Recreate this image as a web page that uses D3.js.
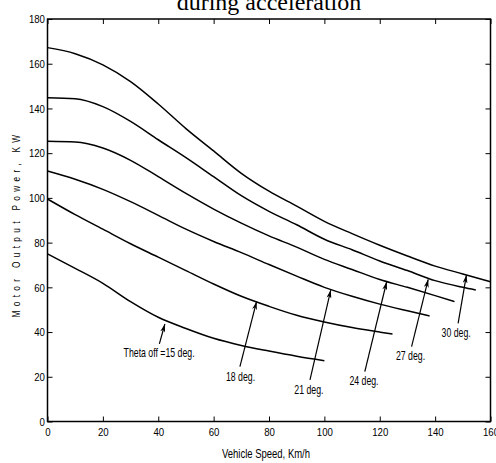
<!DOCTYPE html>
<html>
<head>
<meta charset="utf-8">
<script src="https://cdn.jsdelivr.net/npm/d3@7"></script>
<style>
  body { margin: 0; background: #fff; }
  text { fill: #000; }
</style>
</head>
<body>
<script>
// theta-off angles and the curve (speed km/h, power kW)
var angles = [15, 18, 21, 24, 27, 30]
var speeds15 = [0, 10, 20, 30, 40, 50, 60, 70, 80, 90, 100]
var power15 = [75, 68.5, 61.8, 53.6, 46.6, 41.6, 37.2, 34, 31.5, 29.2, 27.2]
var speeds18 = [0, 10, 20, 30, 40, 50, 60, 70, 80, 90, 100, 110, 120, 124.6]
var power18 = [99.5, 92.5, 86, 79.5, 73.5, 67.5, 61.5, 56, 51.5, 47.5, 44.5, 42, 40, 39.1]
var speeds21 = [0, 10, 20, 30, 40, 50, 60, 70, 80, 90, 100, 110, 120, 130, 138]
var power21 = [112, 108.3, 103.8, 98.3, 92.2, 86, 80.5, 75.5, 70.2, 65, 60, 56, 52.5, 49.5, 47.2]
var speeds24 = [0, 10, 20, 30, 40, 50, 60, 70, 80, 90, 100, 110, 120, 130, 140, 147]
var power24 = [125.3, 125, 122.3, 116.8, 109.5, 102, 95, 88.7, 83, 78, 72.5, 68, 63.5, 60, 56.3, 53.6]
var speeds27 = [0, 10, 20, 30, 40, 50, 60, 70, 80, 90, 100, 110, 120, 130, 140, 150, 154.7]
var power27 = [144.8, 144.3, 140.8, 134.2, 126, 118, 109.5, 101, 94, 88, 81.5, 76.8, 71.8, 67.5, 63, 60, 58.8]
var speeds30 = [0, 10, 20, 30, 40, 50, 60, 70, 80, 90, 100, 110, 120, 130, 140, 150, 160]
var power30 = [167.2, 164.5, 159.5, 152, 142, 131, 121, 111, 103, 96.3, 89.5, 84, 78.8, 74, 69.5, 66, 62.5]

// annotation labels: arrow tip / tail and text anchor in data units
var labelText = ["Theta off =15 deg.", "18 deg.", "21 deg.", "24 deg.", "27 deg.", "30 deg."]
var tipV = [42.4, 75.5, 102.3, 122.5, 137.5, 151.3]
var tipP = [43.6, 53.6, 58.8, 62.5, 63.6, 65.5]
var tailV = [40.4, 69.5, 94.8, 114.6, 131.5, 148.3]
var tailP = [34.7, 24.5, 18.6, 22.3, 33.5, 43.9]
var textV = [40.3, 69.7, 94.4, 114.3, 131.1, 147.6]
var textP = [29.0, 18.1, 12.3, 16.1, 27.3, 37.8]

var xTicks = [0, 20, 40, 60, 80, 100, 120, 140, 160]
var yTicks = [0, 20, 40, 60, 80, 100, 120, 140, 160, 180]

var allSpeeds = [speeds15, speeds18, speeds21, speeds24, speeds27, speeds30]
var allPower = [power15, power18, power21, power24, power27, power30]

var W = 496, H = 463
// plot box edges (window.top is read-only, so use other names)
var boxL = 47.5, boxR = 490.5, boxT = 19, boxB = 421.5
var sans = "'Liberation Sans', Arial, sans-serif"

var svg = d3.select("body").append("svg")
	.attr("width", W)
	.attr("height", H)

var x = d3.scaleLinear().domain([0, 160]).range([boxL, boxR])
var y = d3.scaleLinear().domain([0, 180]).range([boxB, boxT])

// title, cut at the top like the original
svg.append("text")
	.attr("x", (boxL + boxR) / 2)
	.attr("y", 10)
	.attr("text-anchor", "middle")
	.style("font-family", "'Liberation Serif', 'Times New Roman', serif")
	.style("font-size", "24px")
	.text("during acceleration")

// axes with inward ticks
var tickLen = 5
svg.append("g")
	.attr("class", "xaxis")
	.attr("transform", "translate(0," + boxB + ")")
	.call(d3.axisBottom(x).tickValues(xTicks).tickSizeInner(-tickLen).tickSizeOuter(0).tickPadding(6))
svg.append("g")
	.attr("transform", "translate(0," + boxT + ")")
	.call(d3.axisTop(x).tickValues(xTicks).tickSizeInner(-tickLen).tickSizeOuter(0).tickFormat(""))
svg.append("g")
	.attr("class", "yaxis")
	.attr("transform", "translate(" + boxL + ",0)")
	.call(d3.axisLeft(y).tickValues(yTicks).tickSizeInner(-tickLen).tickSizeOuter(0).tickPadding(3))
svg.append("g")
	.attr("transform", "translate(" + boxR + ",0)")
	.call(d3.axisRight(y).tickValues(yTicks).tickSizeInner(-tickLen).tickSizeOuter(0).tickFormat(""))

svg.selectAll(".domain").remove()
svg.selectAll(".tick line").attr("stroke", "#000").attr("stroke-width", 1)
// narrow-looking tick labels
svg.selectAll(".tick text")
	.style("font-family", sans)
	.style("font-size", "11.5px")
	.attr("fill", "#000")
	.attr("transform", "scale(0.84,1)")

// frame
svg.append("rect")
	.attr("x", boxL).attr("y", boxT)
	.attr("width", boxR - boxL).attr("height", boxB - boxT)
	.attr("fill", "none")
	.attr("stroke", "#000")
	.attr("stroke-width", 1.5)

// axis titles
svg.append("text")
	.attr("transform", "translate(" + ((boxL + boxR) / 2 - 3) + ",458) scale(0.73,1)")
	.attr("text-anchor", "middle")
	.style("font-family", sans)
	.style("font-size", "13px")
	.text("Vehicle Speed, Km/h")

svg.append("text")
	.attr("transform", "translate(20,224) rotate(-90) scale(0.75,1)")
	.attr("text-anchor", "middle")
	.style("font-family", sans)
	.style("font-size", "11px")
	.style("letter-spacing", "5.8px")
	.text("Motor Output Power, KW")

// curves
var line = d3.line()
	.x(function(d) { return x(d[0]) })
	.y(function(d) { return y(d[1]) })
	.curve(d3.curveMonotoneX)

for(var i = 0; i < angles.length; ++i) {
	var pts = allSpeeds[i].map(function(v, j) { return [v, allPower[i][j]] })
	svg.append("path")
		.datum(pts)
		.attr("d", line)
		.attr("fill", "none")
		.attr("stroke", "#000")
		.attr("stroke-width", 1.5)
}

// arrowhead marker
svg.append("defs").append("marker")
	.attr("id", "head")
	.attr("viewBox", "0 0 10 6")
	.attr("refX", 10)
	.attr("refY", 3)
	.attr("markerWidth", 9)
	.attr("markerHeight", 5)
	.attr("markerUnits", "userSpaceOnUse")
	.attr("orient", "auto")
	.append("path")
	.attr("d", "M0,0 L10,3 L0,6 L3,3 Z")
	.attr("fill", "#000")

for(var i = 0; i < labelText.length; ++i) {
	svg.append("line")
		.attr("x1", x(tailV[i])).attr("y1", y(tailP[i]))
		.attr("x2", x(tipV[i])).attr("y2", y(tipP[i]))
		.attr("stroke", "#000")
		.attr("stroke-width", 1.2)
		.attr("marker-end", "url(#head)")
	svg.append("text")
		.attr("transform", "translate(" + x(textV[i]) + "," + y(textP[i]) + ") scale(0.7,1)")
		.attr("text-anchor", "middle")
		.style("font-family", sans)
		.style("font-size", "12.5px")
		.text(labelText[i])
}
</script>
</body>
</html>
